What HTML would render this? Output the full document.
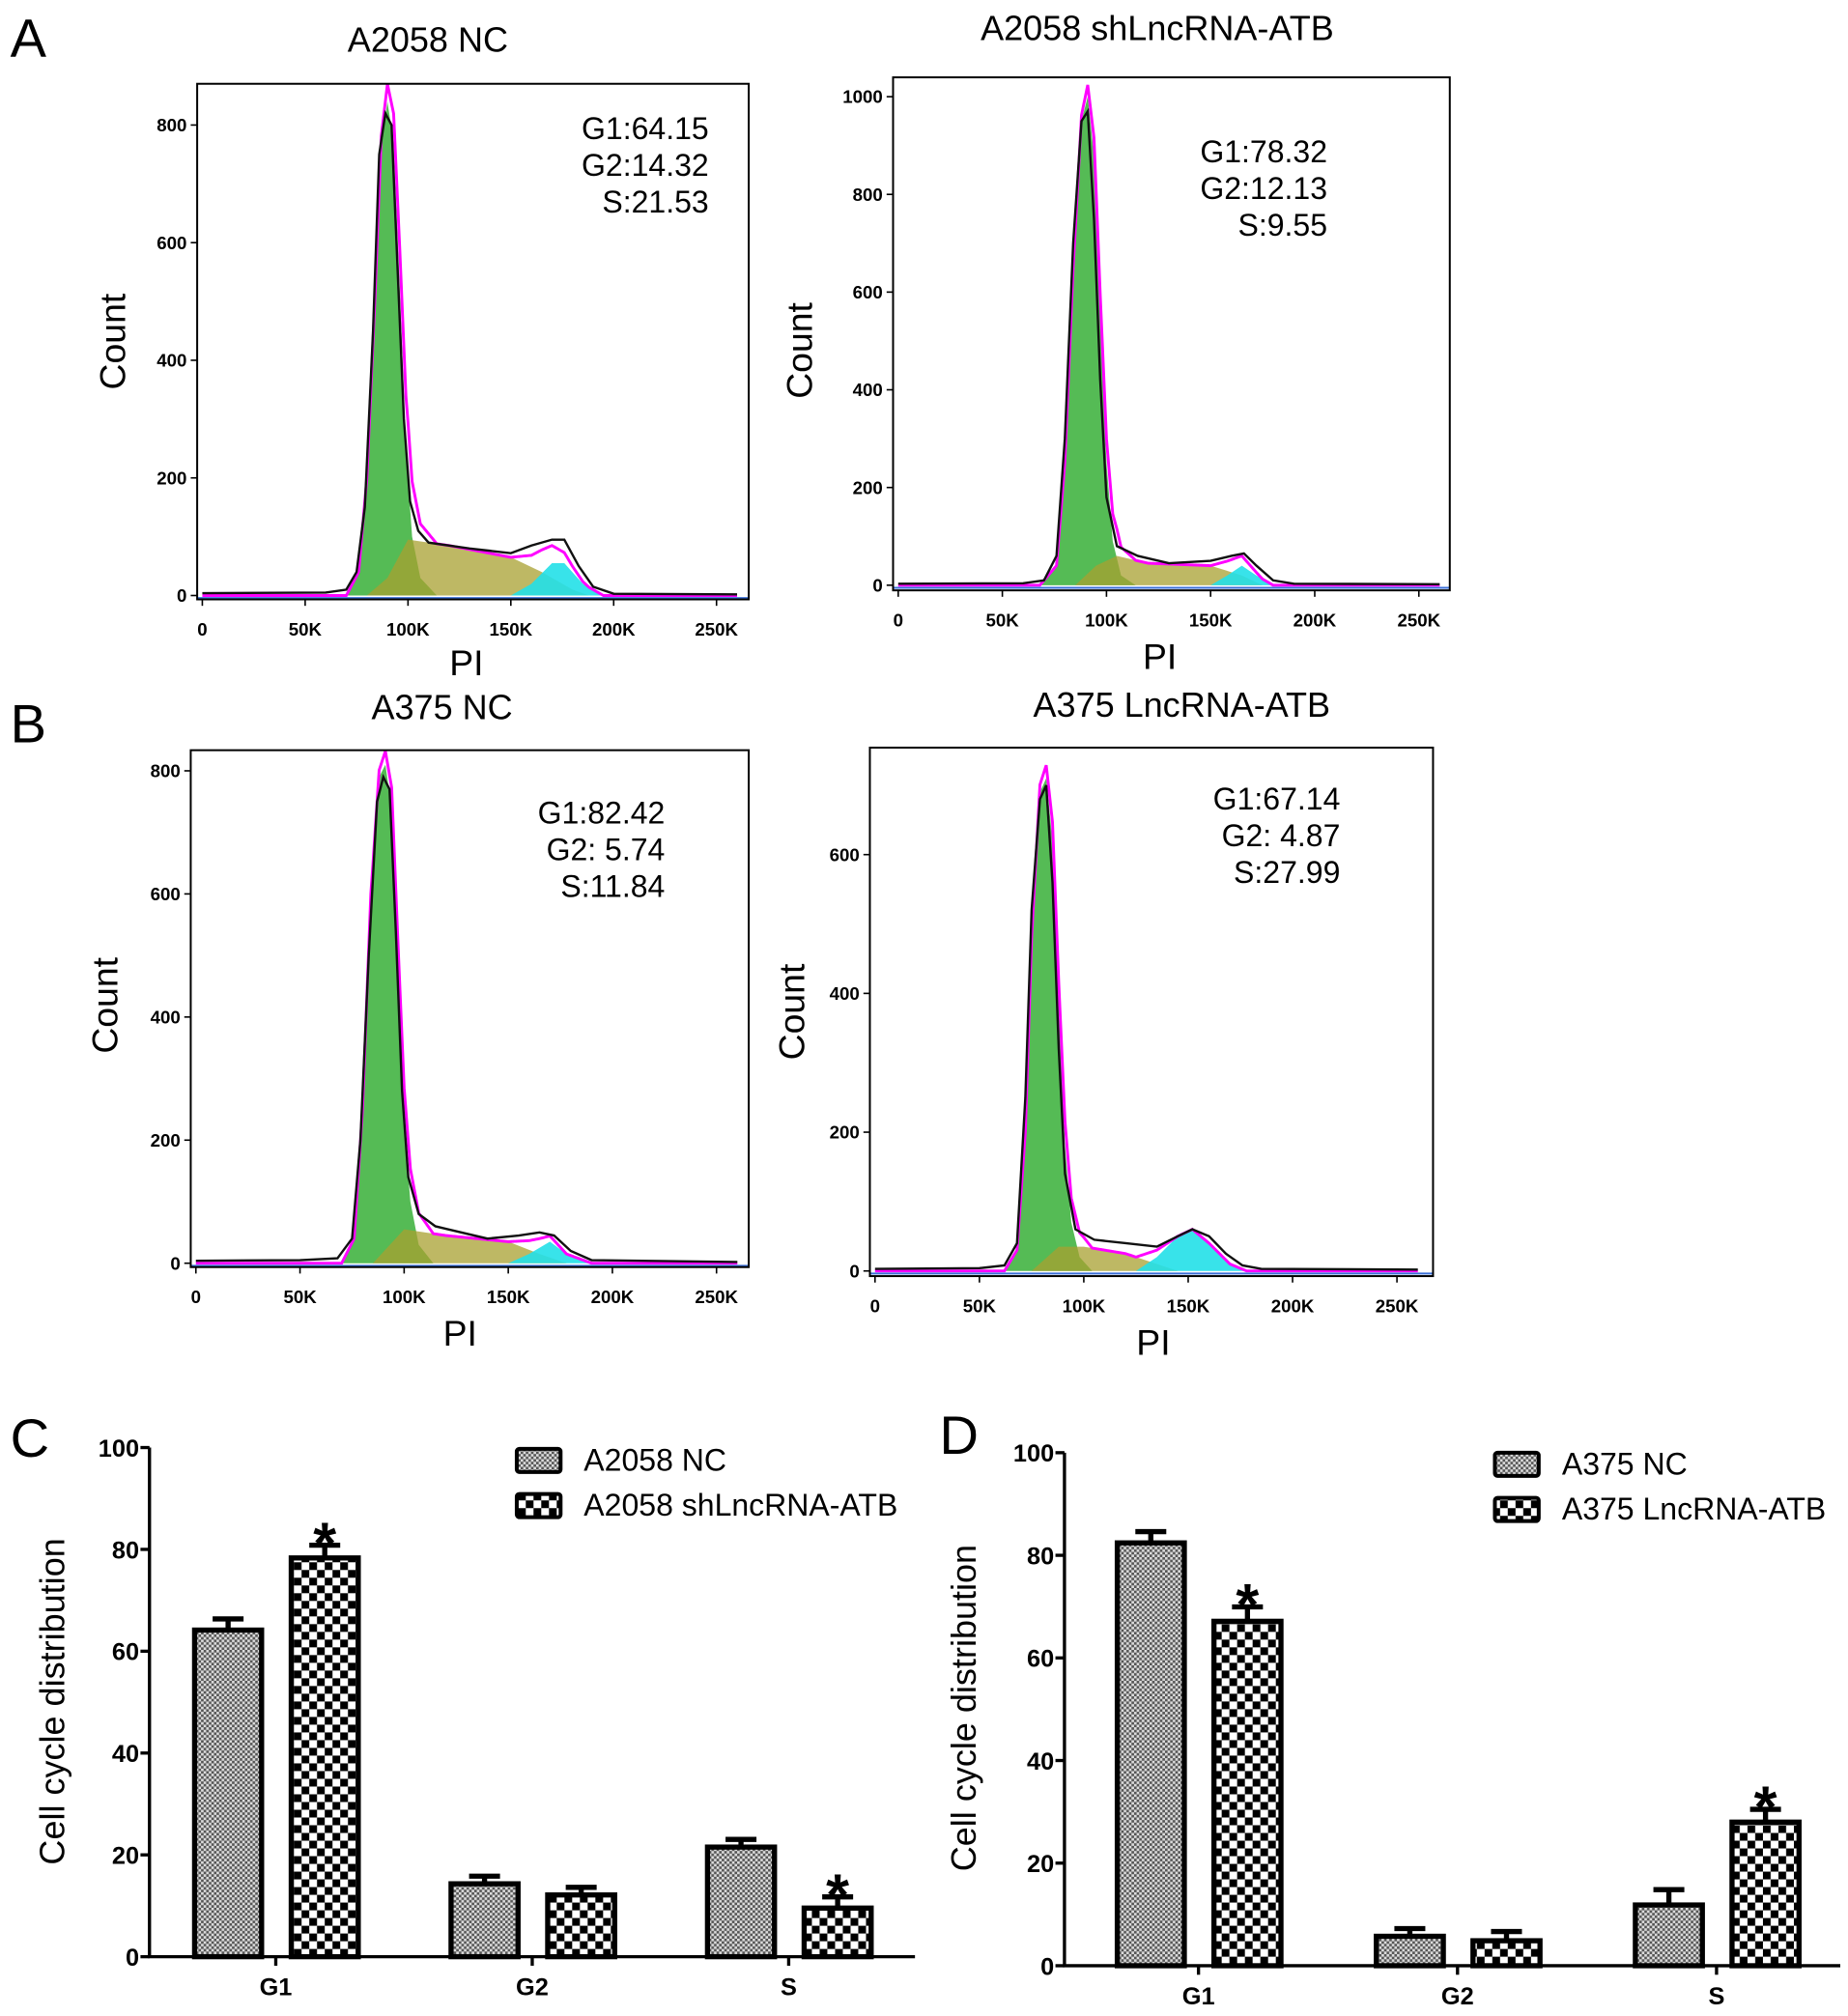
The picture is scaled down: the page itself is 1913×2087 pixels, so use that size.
<!DOCTYPE html>
<html><head><meta charset="utf-8">
<style>
html,body{margin:0;padding:0;background:#fff;}
svg{display:block;font-family:"Liberation Sans",Arial,sans-serif;}
</style></head>
<body>
<svg id="fig" width="1913" height="2087" viewBox="0 0 1434 1564" preserveAspectRatio="none" xmlns="http://www.w3.org/2000/svg">
<defs>
<pattern id="fine" width="4" height="4" patternUnits="userSpaceOnUse">
<rect width="4" height="4" fill="#555"/><rect width="2" height="2" fill="#ddd"/><rect x="2" y="2" width="2" height="2" fill="#ddd"/>
</pattern>
<pattern id="coarse" width="12" height="12" patternUnits="userSpaceOnUse">
<rect width="12" height="12" fill="#fff"/><rect width="6" height="6" fill="#000"/><rect x="6" y="6" width="6" height="6" fill="#000"/>
</pattern>
</defs>
<g id="root"></g>
</svg>
<script>
// ---------- Histogram data (x in K units, count) ----------
const a1G1=[[70,0],[76,40],[80,200],[84,500],[87,760],[90,840],[93,770],[96,520],[99,250],[102,100],[106,30],[114,0]];
const a1S=[[80,0],[90,30],[100,95],[120,85],[150,65],[165,40],[180,10],[188,0]];
const a1G2=[[150,0],[160,20],[170,55],[176,55],[185,20],[195,0]];
const a1Out=[[0,4],[60,5],[70,10],[75,40],[79,150],[83,450],[86,750],[89,820],[92,800],[95,550],[98,300],[101,160],[105,110],[110,90],[130,80],[150,72],[160,85],[170,95],[176,95],[183,50],[190,15],[200,3],[260,2]];

const a2G1=[[68,0],[76,40],[80,250],[84,650],[88,950],[91,1000],[94,880],[97,550],[100,250],[103,90],[107,20],[114,0]];
const a2S=[[85,0],[95,40],[105,60],[120,45],[150,40],[165,20],[175,0]];
const a2G2=[[150,0],[158,20],[165,40],[172,20],[180,0]];
const a2Out=[[0,3],[60,4],[70,10],[76,60],[80,300],[84,700],[88,950],[91,970],[94,750],[97,420],[100,180],[105,80],[115,60],[130,45],[150,50],[160,60],[166,65],[172,40],[180,10],[190,3],[260,2]];

const b1G1=[[70,0],[76,40],[80,250],[84,600],[88,790],[91,810],[94,740],[97,480],[100,230],[103,100],[107,30],[114,0]];
const b1S=[[85,0],[100,55],[120,45],[150,35],[165,15],[178,0]];
const b1G2=[[150,0],[160,15],[170,35],[178,15],[190,0]];
const b1Out=[[0,4],[50,5],[68,8],[75,40],[79,200],[83,500],[87,750],[90,790],[93,770],[96,540],[99,280],[102,140],[107,80],[115,60],[140,40],[155,45],[165,50],[172,45],[180,20],[190,5],[260,2]];

const b2G1=[[62,0],[68,30],[72,200],[75,480],[79,690],[82,710],[85,620],[88,380],[91,180],[94,70],[98,20],[104,0]];
const b2S=[[75,0],[88,35],[100,35],[120,25],[135,10],[145,0]];
const b2G2=[[125,0],[135,20],[145,50],[152,60],[160,40],[170,10],[178,0]];
const b2Out=[[0,3],[50,4],[62,8],[68,40],[72,250],[75,520],[79,680],[82,700],[85,560],[88,320],[91,140],[96,60],[105,45],[120,40],[135,35],[145,50],[152,60],[160,50],[168,25],[176,8],[185,3],[260,2]];

const xTickVals=[0,50,100,150,200,250];
const xTickLabels=["0","50K","100K","150K","200K","250K"];

// ---------- Bar chart data ----------
const phases=["G1","G2","S"];
const cNC=[64.15,14.32,21.53];
const cSh=[78.32,12.13,9.55];
const cNCerr=[2.2,1.5,1.5];
const cShErr=[2.5,1.5,2.2];
const cSig=[true,false,true];
const dNC=[82.42,5.74,11.84];
const dLA=[67.14,4.87,27.99];
const dNCerr=[2.2,1.5,3.0];
const dLAerr=[2.8,1.8,2.5];
const dSig=[true,false,true];
const barTicks=[0,20,40,60,80,100];

const NS="http://www.w3.org/2000/svg";
const root=document.getElementById('root');
function el(tag,attrs,parent){const e=document.createElementNS(NS,tag);for(const k in attrs)e.setAttribute(k,attrs[k]);(parent||root).appendChild(e);return e;}
function txt(s,x,y,size,attrs,parent){const t=el('text',Object.assign({x:x,y:y,'font-size':size,fill:'#000'},attrs||{}),parent);t.textContent=s;return t;}
function interp(arr,x){if(x<=arr[0][0]||x>=arr[arr.length-1][0])return 0;for(let i=1;i<arr.length;i++){if(x<=arr[i][0]){const a=arr[i-1],b=arr[i];return a[1]+(b[1]-a[1])*(x-a[0])/(b[0]-a[0]);}}return 0;}

function histPanel(c){
  const g=el('g',{});
  
  
  const X=v=>c.x0+(c.x250-c.x0)*v/250;
  const Y=v=>c.y0-(c.y0-c.yTopPx)*v/c.yTopVal;
  function area(arr,fill,op,name){
    let d='M'+X(arr[0][0])+','+Y(0);
    arr.forEach(p=>d+=' L'+X(p[0])+','+Y(p[1]));
    d+=' L'+X(arr[arr.length-1][0])+','+Y(0)+' Z';
    const p=el('path',{d:d,fill:fill,'fill-opacity':op,stroke:'none'},g);
    
    
  }
  area(c.g1,'#55bb55',1,'g1-peak');
  area(c.s,'#a8a030',0.75,'s-phase');
  area(c.g2,'#22e0e8',0.9,'g2-peak');
  let d='';
  for(let v=0;v<=260;v+=0.5){const s=interp(c.g1,v)+interp(c.s,v)+interp(c.g2,v);d+=(v?' L':'M')+X(v)+','+Y(s);}
  const fit=el('path',{d:d,fill:'none',stroke:'#ff00ff','stroke-width':2.2},g);
  
  
  let d2='';
  c.out.forEach((p,i)=>d2+=(i?' L':'M')+X(p[0])+','+Y(p[1]));
  const ol=el('path',{d:d2,fill:'none',stroke:'#111','stroke-width':1.8},g);
  
  
  const bl=el('line',{x1:c.fx1,x2:c.fx2,y1:c.y0+2,y2:c.y0+2,stroke:'#3a6fd8','stroke-width':1.5},g);
  
  
  const fr=el('rect',{x:c.fx1,y:c.fy1,width:c.fx2-c.fx1,height:c.fy2-c.fy1,fill:'none',stroke:'#000','stroke-width':1.5},g);
  
  
  c.yTicks.forEach(v=>{
    const l=el('line',{x1:c.fx1-5,x2:c.fx1,y1:Y(v),y2:Y(v),stroke:'#000','stroke-width':1.2},g);
    
    
    const t=txt(String(v),c.fx1-8,Y(v)+5,14,{'text-anchor':'end','font-weight':'bold'},g);
    
    
  });
  xTickVals.forEach((v,i)=>{
    const l=el('line',{x1:X(v),x2:X(v),y1:c.fy2,y2:c.fy2+5,stroke:'#000','stroke-width':1.2},g);
    
    
    const t=txt(xTickLabels[i],X(v),c.fy2+28,14,{'text-anchor':'middle','font-weight':'bold'},g);
    
    
  });
  const ti=txt(c.title,c.titleX,c.titleY,27,{'text-anchor':'middle'},g);
  
  
  const yl=txt('Count',0,0,28,{'text-anchor':'middle',transform:'translate('+c.cntX+','+c.cntY+') rotate(-90)'},g);
  
  
  const xl=txt('PI',c.piX,c.piY,28,{'text-anchor':'middle'},g);
  
  
  c.stats.forEach((s,i)=>{
    const t=txt(s,c.statX,c.statY+i*28.5,24,{'text-anchor':'end','xml:space':'preserve'},g);
    
    
  });
}

histPanel({name:'hist-a2058-nc',g1:a1G1,s:a1S,g2:a1G2,out:a1Out,x0:157,x250:556,y0:462,yTopPx:97,yTopVal:800,yTicks:[0,200,400,600,800],fx1:153,fx2:581,fy1:65,fy2:465,title:'A2058 NC',titleX:332,titleY:40,cntX:97,cntY:265,piX:362,piY:524,stats:['G1:64.15','G2:14.32','S:21.53'],statX:550,statY:108});
histPanel({name:'hist-a2058-shlncrna',g1:a2G1,s:a2S,g2:a2G2,out:a2Out,x0:697,x250:1101,y0:454,yTopPx:75,yTopVal:1000,yTicks:[0,200,400,600,800,1000],fx1:693,fx2:1125,fy1:60,fy2:458,title:'A2058 shLncRNA-ATB',titleX:898,titleY:31,cntX:630,cntY:272,piX:900,piY:519,stats:['G1:78.32','G2:12.13','S:9.55'],statX:1030,statY:126});
histPanel({name:'hist-a375-nc',g1:b1G1,s:b1S,g2:b1G2,out:b1Out,x0:152,x250:556,y0:980,yTopPx:598,yTopVal:800,yTicks:[0,200,400,600,800],fx1:148,fx2:581,fy1:582,fy2:983,title:'A375 NC',titleX:343,titleY:558,cntX:91,cntY:780,piX:357,piY:1044,stats:['G1:82.42','G2:  5.74','S:11.84'],statX:516,statY:639});
histPanel({name:'hist-a375-lncrna',g1:b2G1,s:b2S,g2:b2G2,out:b2Out,x0:679,x250:1084,y0:986,yTopPx:663,yTopVal:600,yTicks:[0,200,400,600],fx1:675,fx2:1112,fy1:580,fy2:990,title:'A375 LncRNA-ATB',titleX:917,titleY:556,cntX:624,cntY:785,piX:895,piY:1051,stats:['G1:67.14','G2:  4.87','S:27.99'],statX:1040,statY:628});

function barPanel(c){
  const g=el('g',{});
  
  
  const Y=v=>c.y0-(c.y0-c.y100)*v/100;
  const ax=el('path',{d:'M'+c.ax+','+(c.y100)+' L'+c.ax+','+c.y0+' L'+c.axEnd+','+c.y0,fill:'none',stroke:'#000','stroke-width':2.5},g);
  
  
  barTicks.forEach(v=>{
    const l=el('line',{x1:c.ax-7,x2:c.ax,y1:Y(v),y2:Y(v),stroke:'#000','stroke-width':2.5},g);
    
    
    const t=txt(String(v),c.ax-8,Y(v)+7,19,{'text-anchor':'end','font-weight':'bold'},g);
    
    
  });
  phases.forEach((p,i)=>{
    const cx=c.cat0+i*c.catStep;
    const t=txt(p,cx,c.y0+30,19,{'text-anchor':'middle','font-weight':'bold'},g);
    
    
    const tk=el('line',{x1:cx,x2:cx,y1:c.y0,y2:c.y0+7,stroke:'#000','stroke-width':2.5},g);
    
    
    [[c.s1,c.e1,'url(#fine)'],[c.s2,c.e2,'url(#coarse)']].forEach((sr,k)=>{
      const v=sr[0][i],e=sr[1][i];
      const bx=cx+(k?12:-63);
      const b=el('rect',{x:bx,y:Y(v),width:52,height:Y(0)-Y(v),fill:sr[2],stroke:'#000','stroke-width':4},g);
      
      
      const eb=el('path',{d:'M'+(bx+26)+','+Y(v)+' L'+(bx+26)+','+Y(v+e)+' M'+(bx+14)+','+Y(v+e)+' L'+(bx+38)+','+Y(v+e),stroke:'#000','stroke-width':4,fill:'none'},g);
      
      
      if(k===1&&c.sig[i]){
        const st=txt('*',bx+26,Y(v+e)+14,46,{'text-anchor':'middle','font-weight':'bold'},g);
        
        
      }
    });
  });
  const yl=txt('Cell cycle distribution',0,0,27,{'text-anchor':'middle',transform:'translate('+c.ylX+','+c.ylY+') rotate(-90)'},g);
  
  
  c.legend.forEach((s,i)=>{
    const sw=el('rect',{x:c.legX,y:c.legY+i*35,width:34,height:18,rx:2,fill:i?'url(#coarse)':'url(#fine)',stroke:'#000','stroke-width':3},g);
    
    
    const t=txt(s,c.legX+52,c.legY+i*35+17,24,{},g);
    
    
  });
}
barPanel({name:'bar-chart-c',s1:cNC,e1:cNCerr,s2:cSh,e2:cShErr,sig:cSig,ax:116,axEnd:710,y0:1518,y100:1123,cat0:214,catStep:199,ylX:50,ylY:1320,legX:401,legY:1124,legend:['A2058 NC','A2058 shLncRNA-ATB']});
barPanel({name:'bar-chart-d',s1:dNC,e1:dNCerr,s2:dLA,e2:dLAerr,sig:dSig,ax:826,axEnd:1428,y0:1525,y100:1127,cat0:930,catStep:201,ylX:757,ylY:1325,legX:1160,legY:1127,legend:['A375 NC','A375 LncRNA-ATB']});

[['A',8,44],['B',8,576],['C',8,1130],['D',729,1128]].forEach(p=>{
  const t=txt(p[0],p[1],p[2],42,{});
  
  
});
</script>
</body></html>
